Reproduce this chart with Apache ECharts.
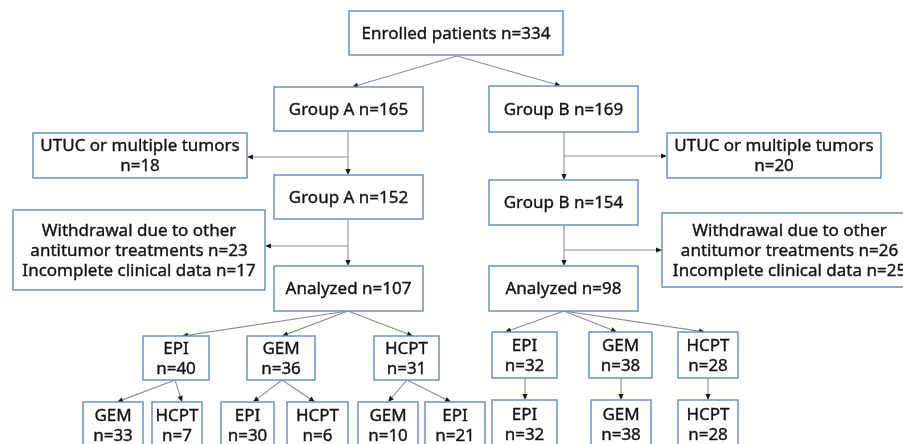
<!DOCTYPE html>
<html>
<head>
<meta charset="utf-8">
<script src="https://cdn.jsdelivr.net/npm/echarts@6/dist/echarts.min.js"></script>
<style>
  html, body { margin: 0; padding: 0; background: #fff; }
  #chart { width: 903px; height: 444px; }
</style>
</head>
<body>
<div id="chart"></div>
<script>
// counts
var enrolledN = 334;
var groupNames = ['Group A', 'Group B'];
var groupN = [165, 169];
var utucN = [18, 20];
var keptN = [152, 154];
var withdrawalN = [23, 26];
var incompleteN = [17, 25];
var analyzedN = [107, 98];
var firstDrugsA = ['EPI', 'GEM', 'HCPT'];
var firstNA = [40, 36, 31];
var firstDrugsB = ['EPI', 'GEM', 'HCPT'];
var firstNB = [32, 38, 28];
var secondDrugsA = ['GEM', 'HCPT', 'EPI', 'HCPT', 'GEM', 'EPI'];
var secondNA = [33, 7, 30, 6, 10, 21];
var secondDrugsB = ['EPI', 'GEM', 'HCPT'];
var secondNB = [32, 38, 28];

// box texts, in the order of the layout below
var boxText = [
    'Enrolled patients n=' + enrolledN,
    groupNames[0] + ' n=' + groupN[0],
    groupNames[1] + ' n=' + groupN[1],
    'UTUC or multiple tumors\nn=' + utucN[0],
    'UTUC or multiple tumors\nn=' + utucN[1],
    groupNames[0] + ' n=' + keptN[0],
    groupNames[1] + ' n=' + keptN[1],
    'Withdrawal due to other\nantitumor treatments n=' + withdrawalN[0] + '\nIncomplete clinical data n=' + incompleteN[0],
    'Withdrawal due to other\nantitumor treatments n=' + withdrawalN[1] + '\nIncomplete clinical data n=' + incompleteN[1],
    'Analyzed n=' + analyzedN[0],
    'Analyzed n=' + analyzedN[1]
];
firstDrugsA.forEach(function (d, i) { boxText.push(d + '\nn=' + firstNA[i]); });
firstDrugsB.forEach(function (d, i) { boxText.push(d + '\nn=' + firstNB[i]); });
secondDrugsA.forEach(function (d, i) { boxText.push(d + '\nn=' + secondNA[i]); });
secondDrugsB.forEach(function (d, i) { boxText.push(d + '\nn=' + secondNB[i]); });

// layout: [x0, y0, x1, y1] on the page grid
var boxPos = [
    [349, 11, 563, 55],
    [274, 87, 423, 131],
    [489, 86, 638, 132],
    [33, 133, 247, 178],
    [667, 133, 881, 178],
    [274, 175, 423, 219],
    [489, 180, 638, 225],
    [13, 210, 265, 290],
    [662, 213, 917, 287],
    [274, 266, 423, 311],
    [489, 266, 638, 311],
    [143, 336, 209, 380],
    [247, 336, 315, 380],
    [374, 336, 439, 380],
    [492, 332, 557, 378],
    [589, 332, 652, 378],
    [678, 332, 738, 378],
    [83, 402, 143, 449],
    [152, 402, 202, 449],
    [221, 402, 274, 449],
    [287, 402, 348, 449],
    [358, 402, 418, 449],
    [425, 402, 485, 449],
    [492, 400, 557, 449],
    [591, 400, 651, 449],
    [678, 400, 738, 449]
];

// connectors: [x0, y0, x1, y1], arrow at the end
var links = [
    [457, 56, 352, 87],
    [457, 56, 561, 86],
    [348, 131, 348, 175],
    [348, 157, 247, 157],
    [348, 219, 348, 266],
    [348, 246, 265, 246],
    [564, 132, 564, 180],
    [564, 156, 667, 156],
    [564, 225, 564, 266],
    [564, 250, 662, 250],
    [348, 311, 182, 336],
    [348, 311, 282, 336],
    [348, 311, 413, 336],
    [564, 311, 505, 332],
    [564, 311, 617, 332],
    [564, 311, 705, 332],
    [175, 380, 117, 402],
    [175, 380, 182, 402],
    [282, 380, 253, 402],
    [282, 380, 315, 402],
    [407, 380, 388, 402],
    [407, 380, 451, 402],
    [525, 378, 525, 400],
    [621, 378, 621, 400],
    [708, 378, 708, 400]
];

var chart = echarts.init(document.getElementById('chart'), null, { renderer: 'canvas' });

var boxData = boxPos.map(function (p, i) {
    return { value: p, name: boxText[i] };
});

var option = {
    animation: false,
    backgroundColor: '#ffffff',
    grid: { left: 0, right: 0, top: 0, bottom: 0 },
    xAxis: { type: 'value', min: 0, max: 903, show: false },
    yAxis: { type: 'value', min: 0, max: 444, inverse: true, show: false },
    series: [
        {
            type: 'custom',
            clip: false,
            data: links,
            renderItem: function (params, api) {
                var a = api.coord([api.value(0), api.value(1)]);
                var b = api.coord([api.value(2), api.value(3)]);
                var dx = b[0] - a[0], dy = b[1] - a[1];
                var len = Math.sqrt(dx * dx + dy * dy);
                var ux = dx / len, uy = dy / len;
                var hl = 6, hw = 2.6;
                var base = [b[0] - ux * hl, b[1] - uy * hl];
                return {
                    type: 'group',
                    children: [
                        {
                            type: 'line',
                            shape: { x1: a[0], y1: a[1], x2: base[0], y2: base[1] },
                            style: { stroke: '#8c8c8c', lineWidth: 1.1 }
                        },
                        {
                            type: 'polygon',
                            shape: {
                                points: [
                                    b,
                                    [base[0] - uy * hw, base[1] + ux * hw],
                                    [base[0] + uy * hw, base[1] - ux * hw]
                                ]
                            },
                            style: { fill: '#1a1a1a' }
                        }
                    ]
                };
            }
        },
        {
            type: 'custom',
            clip: false,
            data: boxData,
            renderItem: function (params, api) {
                var p0 = api.coord([api.value(0), api.value(1)]);
                var p1 = api.coord([api.value(2), api.value(3)]);
                var txt = boxText[params.dataIndex];
                return {
                    type: 'group',
                    children: [
                        {
                            type: 'rect',
                            shape: { x: p0[0], y: p0[1], width: p1[0] - p0[0], height: p1[1] - p0[1] },
                            style: { fill: '#ffffff', stroke: '#6f8fc8', lineWidth: 1.5 }
                        },
                        {
                            type: 'text',
                            x: (p0[0] + p1[0]) / 2,
                            y: (p0[1] + p1[1]) / 2 + 1,
                            style: {
                                text: txt,
                                fill: '#111111',
                                stroke: '#111111',
                                lineWidth: 0.35,
                                font: '17px "Noto Sans", sans-serif',
                                align: 'center',
                                verticalAlign: 'middle',
                                lineHeight: 20
                            }
                        }
                    ]
                };
            }
        }
    ]
};

chart.setOption(option);
</script>
</body>
</html>
